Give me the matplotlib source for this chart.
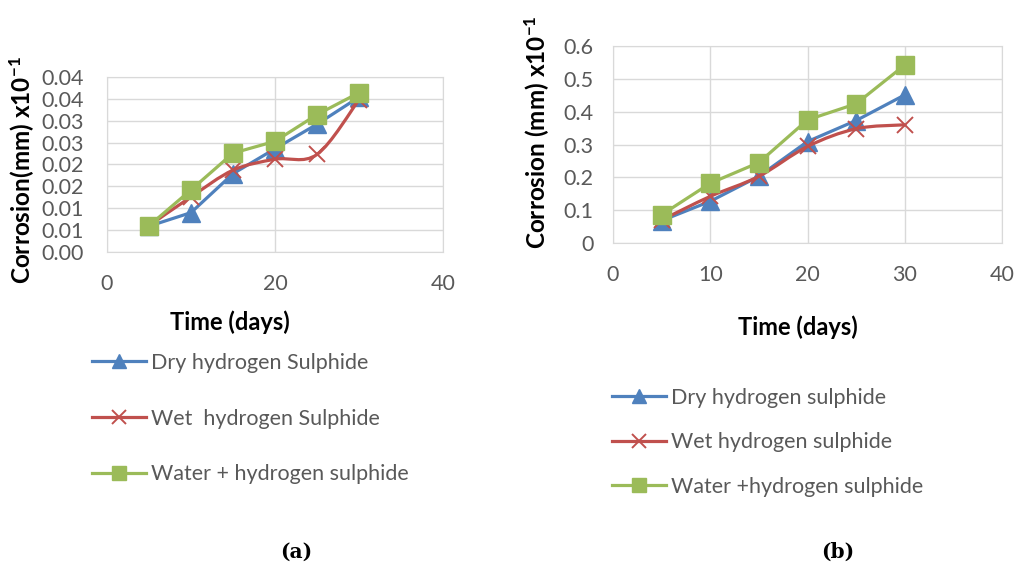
import numpy as np
import matplotlib.pyplot as plt
from matplotlib.path import Path
from matplotlib.patches import PathPatch
from matplotlib.lines import Line2D

plt.rcParams['font.family'] = ['Lato', 'DejaVu Sans']
plt.rcParams['mathtext.default'] = 'regular'

days = [5, 10, 15, 20, 25, 30]

# (a)
dry_a = [0.0059, 0.0090, 0.0179, 0.0236, 0.0292, 0.0354]
wet_a = [0.0060, 0.0126, 0.0187, 0.0212, 0.0223, 0.0348]
water_a = [0.0060, 0.0142, 0.0226, 0.0253, 0.0314, 0.0364]
yticks_a = [0, 0.005, 0.01, 0.015, 0.02, 0.025, 0.03, 0.035, 0.04]
ylabels_a = ['0.00', '0.01', '0.01', '0.02', '0.02', '0.03', '0.03', '0.04', '0.04']
names_a = ['Dry hydrogen Sulphide', 'Wet  hydrogen Sulphide', 'Water + hydrogen sulphide']

# (b)
dry_b = [0.068, 0.127, 0.203, 0.309, 0.373, 0.451]
wet_b = [0.070, 0.142, 0.203, 0.294, 0.348, 0.360]
water_b = [0.086, 0.182, 0.245, 0.375, 0.424, 0.542]
yticks_b = [0, 0.1, 0.2, 0.3, 0.4, 0.5, 0.6]
ylabels_b = ['0', '0.1', '0.2', '0.3', '0.4', '0.5', '0.6']
names_b = ['Dry hydrogen sulphide', 'Wet hydrogen sulphide', 'Water +hydrogen sulphide']

blue, red, green = '#4F81BD', '#C0504D', '#9BBB59'
grey = '#595959'
W, H = 1014, 567


def smooth_line(ax, x, y, color):
    # excel style smoothed line (catmull-rom as bezier)
    p = np.column_stack([x, y]).astype(float)
    ext = np.vstack([p[0], p, p[-1]])
    verts = [tuple(p[0])]
    codes = [Path.MOVETO]
    for i in range(len(p) - 1):
        a, b, c, d = ext[i], ext[i + 1], ext[i + 2], ext[i + 3]
        verts += [tuple(b + (c - a) / 6), tuple(c - (d - b) / 6), tuple(c)]
        codes += [Path.CURVE4] * 3
    ax.add_patch(PathPatch(Path(verts, codes), fill=False, edgecolor=color,
                           lw=2.3, zorder=3))


def panel(ax, dry, wet, water, yticks, ylabels, ylabel, ypad):
    ax.plot(days, dry, color=blue, lw=2.3, marker='^', ms=13, zorder=3)
    smooth_line(ax, days, wet, red)
    ax.plot(days, wet, ls='none', color=red, marker='x', ms=12, mew=1.4, zorder=4)
    ax.plot(days, water, color=green, lw=2.3, marker='s', ms=13, zorder=5)
    ax.set_xlim(0, 40)
    ax.set_ylim(yticks[0], yticks[-1])
    ax.set_xticks([0, 10, 20, 30, 40])
    ax.set_yticks(yticks)
    ax.set_yticklabels(ylabels)
    ax.grid(color='#D9D9D9', lw=1)
    ax.set_axisbelow(True)
    for s in ax.spines.values():
        s.set_color('#D9D9D9')
    ax.tick_params(length=0, labelsize=15.5, colors=grey)
    ax.tick_params(axis='x', pad=16)
    ax.tick_params(axis='y', pad=ypad)
    ax.set_ylabel(ylabel, fontsize=17.5, fontweight='bold')
    ax.set_xlabel('Time (days)', fontsize=17, fontweight='bold')
    handles = [Line2D([], [], color=blue, lw=2.3, marker='^', ms=10),
               Line2D([], [], color=red, lw=2.3, marker='x', ms=10, mew=1.4),
               Line2D([], [], color=green, lw=2.3, marker='s', ms=10)]
    return handles


fig = plt.figure(figsize=(W / 100, H / 100), dpi=100)
ax1 = fig.add_axes([107 / W, 1 - 252 / H, 336 / W, 175 / H])
ax2 = fig.add_axes([613 / W, 1 - 243 / H, 389 / W, 197 / H])

h1 = panel(ax1, dry_a, wet_a, water_a, yticks_a, ylabels_a,
           'Corrosion(mm) x10$^{-1}$', 17)
ax1.set_xticks([0, 20, 40])
h2 = panel(ax2, dry_b, wet_b, water_b, yticks_b, ylabels_b,
           'Corrosion (mm) x10$^{-1}$', 14)

# label positions in figure pixels
ax1.yaxis.set_label_coords(22 / W, 1 - 170 / H, transform=fig.transFigure)
ax2.yaxis.set_label_coords(537 / W, 1 - 132 / H, transform=fig.transFigure)
ax1.xaxis.set_label_coords(230 / W, 1 - 322 / H, transform=fig.transFigure)
ax2.xaxis.set_label_coords(798 / W, 1 - 327 / H, transform=fig.transFigure)
for lab in [ax1.yaxis.label, ax2.yaxis.label, ax1.xaxis.label, ax2.xaxis.label]:
    lab.set_va('center')

fig.legend(h1, names_a, loc='upper left', bbox_to_anchor=(92 / W, 1 - 353 / H),
           frameon=False, fontsize=15.5, labelcolor=grey, labelspacing=1.66,
           handlelength=2.5, handletextpad=0.25, borderpad=0, borderaxespad=0)
fig.legend(h2, names_b, loc='upper left', bbox_to_anchor=(612 / W, 1 - 388 / H),
           frameon=False, fontsize=15.5, labelcolor=grey, labelspacing=1.13,
           handlelength=2.5, handletextpad=0.25, borderpad=0, borderaxespad=0)

fig.text(296 / W, 1 - 552 / H, '(a)', family='DejaVu Serif', fontweight='bold',
         fontsize=14.5, ha='center', va='center')
fig.text(838 / W, 1 - 552 / H, '(b)', family='DejaVu Serif', fontweight='bold',
         fontsize=14.5, ha='center', va='center')

fig.savefig('out.png', dpi=100)
